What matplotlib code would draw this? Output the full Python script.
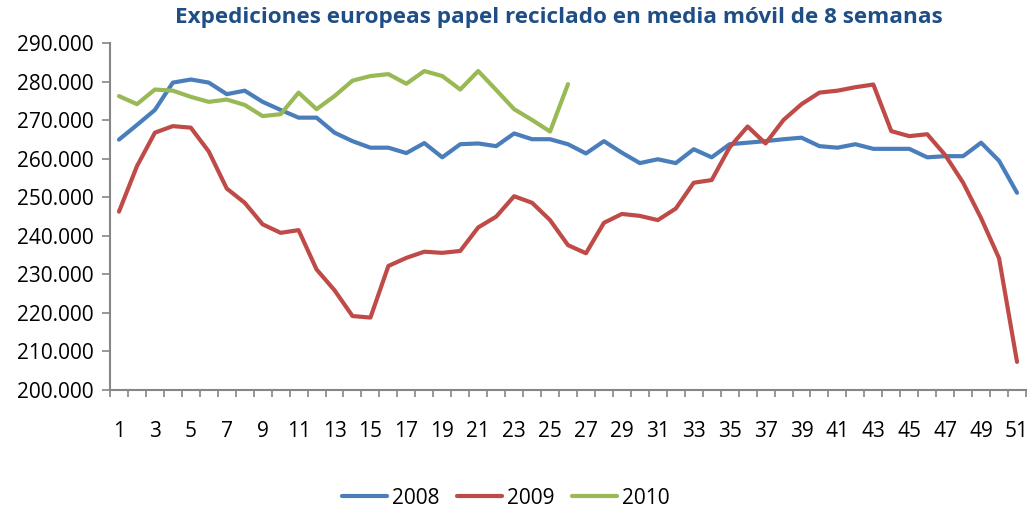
import matplotlib
matplotlib.use("Agg")
import matplotlib.pyplot as plt
from matplotlib.ticker import FixedLocator, FuncFormatter

plt.rcParams['font.family'] = ['Open Sans', 'DejaVu Sans']

weeks = list(range(1, 52))

s2008 = [265000, 268800, 272700, 279800, 280600, 279800, 276800, 277700, 274800, 272700,
         270700, 270700, 266800, 264600, 262900, 262900, 261500, 264100, 260400, 263800,
         264000, 263300, 266600, 265100, 265100, 263800, 261400, 264600, 261600, 258900,
         259900, 258900, 262500, 260400, 263800, 264200, 264600, 265100, 265500, 263300,
         262900, 263800, 262600, 262600, 262600, 260400, 260700, 260700, 264200, 259500,
         251200]

s2009 = [246300, 258100, 266800, 268500, 268100, 261900, 252300, 248600, 243000, 240800,
         241500, 231300, 225900, 219200, 218800, 232200, 234300, 235900, 235600, 236100,
         242200, 245000, 250300, 248600, 244100, 237600, 235500, 243400, 245700, 245200,
         244100, 247100, 253800, 254500, 263000, 268400, 264000, 270100, 274200, 277200,
         277700, 278600, 279300, 267200, 265900, 266400, 261000, 253800, 244600, 234200,
         207300]

s2010 = [276300, 274200, 278000, 277700, 276100, 274800, 275400, 274000, 271100, 271600,
         277200, 272900, 276300, 280300, 281500, 282000, 279500, 282800, 281500, 278000,
         282800, 277900, 272900, 270100, 267100, 279400]

series_names = ['2008', '2009', '2010']
colors = ['#4A7EBB', '#BE4B48', '#98B954']
yticks = list(range(200000, 290001, 10000))
title = 'Expediciones europeas papel reciclado en media móvil de 8 semanas'

fig = plt.figure(figsize=(10.30, 5.09), dpi=100)
ax = fig.add_axes([110/1030, 119/509, 916/1030, 346.7/509])

for name, data, c in zip(series_names, [s2008, s2009, s2010], colors):
    ax.plot(weeks[:len(data)], data, color=c, lw=3.0, solid_capstyle='round',
            solid_joinstyle='round', label=name)

ax.set_xlim(0.5, 51.5)
ax.set_ylim(200000, 290000)
ax.yaxis.set_major_locator(FixedLocator(yticks))
ax.yaxis.set_major_formatter(FuncFormatter(lambda v, p: f"{int(v):,}".replace(',', '.')))
ax.xaxis.set_major_locator(FixedLocator(weeks[::2]))
ax.xaxis.set_minor_locator(FixedLocator([w + 0.5 for w in range(0, 52)]))

for side in ['top', 'right']:
    ax.spines[side].set_visible(False)
for side in ['left', 'bottom']:
    ax.spines[side].set_color('#868686')
    ax.spines[side].set_linewidth(1.5)

ax.tick_params(axis='y', which='major', length=6, width=1.2, color='#868686',
               labelsize=15, pad=6, labelcolor='black')
ax.tick_params(axis='x', which='major', length=0, labelsize=15, pad=22, labelcolor='black')
ax.tick_params(axis='x', which='minor', length=5, width=1.2, color='#868686')

fig.text(559/1030, 1 - 18/509, title, ha='center', va='center', fontsize=16.2,
         fontweight='bold', color='#1F4E86')

fig.legend(loc='center', bbox_to_anchor=(506/1030, 1 - 498/509), ncol=3, frameon=False,
           fontsize=15, handlelength=2.15, columnspacing=0.85, handletextpad=0.25)

fig.savefig('out.png', dpi=100)
